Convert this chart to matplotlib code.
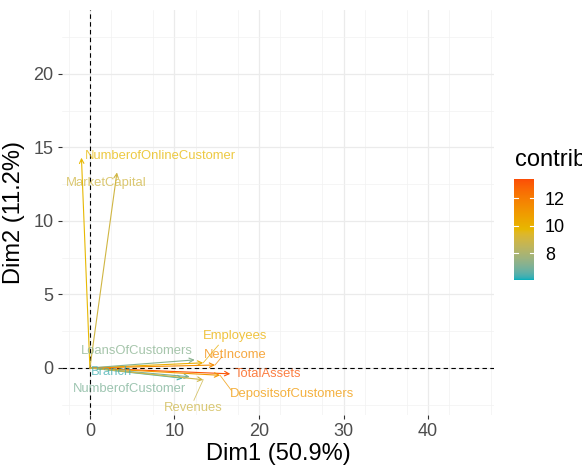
import numpy as np
import matplotlib
matplotlib.use('Agg')
import matplotlib.pyplot as plt
from matplotlib.colors import ListedColormap, Normalize, to_rgb

plt.rcParams['font.family'] = ['Liberation Sans', 'DejaVu Sans']

# variables on the first two dimensions
variables = ['NumberofOnlineCustomer', 'MarketCapital', 'Employees', 'NetIncome',
             'LoansOfCustomers', 'Branch', 'TotalAssets', 'NumberofCustomer',
             'DepositsofCustomers', 'Revenues']
dim1 = [-1.0, 3.2, 13.4, 14.8, 12.4, 11.0, 16.6, 11.8, 15.4, 13.4]
dim2 = [14.3, 13.3, 0.35, 0.2, 0.55, -0.7, -0.4, -0.6, -0.5, -0.8]
contrib = [9.7, 9.0, 10.1, 11.5, 7.2, 6.3, 13.2, 7.0, 11.0, 8.9]

# label placement (repelled positions), and whether a leader segment is drawn
label_x = [8.3, 1.9, 17.2, 17.2, 5.6, 2.6, 21.1, 4.7, 23.9, 12.2]
label_y = [14.4, 12.6, 2.2, 0.9, 1.15, -0.27, -0.4, -1.43, -1.77, -2.7]
leader = [False, False, True, True, False, False, False, False, True, True]
leader_end = {2: (15.2, 1.55), 3: (15.6, 0.75), 8: (16.7, -1.5), 9: (12.3, -2.2)}

gradient_cols = ['#00AFBB', '#E7B800', '#FC4E07']


# ggplot interpolates gradients in Lab space
def srgb_to_lab(rgb):
    rgb = np.asarray(rgb, float)
    lin = np.where(rgb <= 0.04045, rgb / 12.92, ((rgb + 0.055) / 1.055) ** 2.4)
    m = np.array([[0.4124, 0.3576, 0.1805],
                  [0.2126, 0.7152, 0.0722],
                  [0.0193, 0.1192, 0.9505]])
    xyz = m @ lin / np.array([0.95047, 1.0, 1.08883])
    f = np.where(xyz > 0.008856, np.cbrt(xyz), 7.787 * xyz + 16 / 116)
    return np.array([116 * f[1] - 16, 500 * (f[0] - f[1]), 200 * (f[1] - f[2])])


def lab_to_srgb(lab):
    L, a, b = lab
    fy = (L + 16) / 116
    fx = fy + a / 500
    fz = fy - b / 200
    f = np.array([fx, fy, fz])
    xyz = np.where(f ** 3 > 0.008856, f ** 3, (f - 16 / 116) / 7.787)
    xyz = xyz * np.array([0.95047, 1.0, 1.08883])
    minv = np.array([[3.2406, -1.5372, -0.4986],
                     [-0.9689, 1.8758, 0.0415],
                     [0.0557, -0.2040, 1.0570]])
    lin = minv @ xyz
    rgb = np.where(lin <= 0.0031308, 12.92 * lin, 1.055 * np.clip(lin, 0, None) ** (1 / 2.4) - 0.055)
    return np.clip(rgb, 0, 1)


labs = [srgb_to_lab(to_rgb(c)) for c in gradient_cols]
steps = []
for t in np.linspace(0, 1, 256):
    seg = min(int(t * 2), 1)
    u = t * 2 - seg
    steps.append(lab_to_srgb(labs[seg] * (1 - u) + labs[seg + 1] * u))
cmap = ListedColormap(steps)
norm = Normalize(vmin=6.04, vmax=13.4)

fig = plt.figure(figsize=(5.82, 4.66), dpi=100)
ax = fig.add_axes([62/582, 51/466, 432/582, 405/466])

ax.set_xlim(-3.3, 47.8)
ax.set_ylim(-3.2, 24.35)
ax.set_xticks([0, 10, 20, 30, 40])
ax.set_yticks([0, 5, 10, 15, 20])
ax.set_xticks(np.arange(-2.5, 47.6, 5), minor=True)
ax.set_yticks(np.arange(-2.5, 24, 5), minor=True)
ax.grid(which='major', color='#EBEBEB', lw=0.9)
ax.grid(which='minor', color='#F2F2F2', lw=0.5)
ax.set_axisbelow(True)
for s in ax.spines.values():
    s.set_visible(False)
ax.tick_params(which='major', length=3, width=0.8, color='#333333',
               labelsize=13, labelcolor='#4D4D4D', pad=3)
ax.tick_params(which='minor', length=0)

ax.axhline(0, color='black', lw=0.8, ls=(0, (4, 3)), zorder=1)
ax.axvline(0, color='black', lw=0.8, ls=(0, (4, 3)), zorder=1)

for i, name in enumerate(variables):
    c = cmap(norm(contrib[i]))
    ax.annotate('', xy=(dim1[i], dim2[i]), xytext=(0, 0),
                arrowprops=dict(arrowstyle='->', color=c, lw=0.8,
                                mutation_scale=8, shrinkA=0, shrinkB=0),
                zorder=3)
    if leader[i]:
        ex, ey = leader_end[i]
        ax.plot([dim1[i], ex], [dim2[i], ey], color=c, lw=0.6, alpha=0.8, zorder=3)
    ax.text(label_x[i], label_y[i], name, color=c, fontsize=9.4, alpha=0.75,
            ha='center', va='center', zorder=4)

ax.set_xlabel('Dim1 (50.9%)', fontsize=17, labelpad=2)
ax.set_ylabel('Dim2 (11.2%)', fontsize=17, labelpad=6)

# colour bar legend
cax = fig.add_axes([514/582, 186/466, 20/582, 101/466])
grad = np.linspace(norm.vmin, norm.vmax, 256).reshape(-1, 1)
cax.imshow(grad, aspect='auto', cmap=cmap, norm=norm, origin='lower',
           extent=[0, 1, norm.vmin, norm.vmax])
cax.set_xlim(0, 1)
cax.set_ylim(norm.vmin, norm.vmax)
for t in [8, 10, 12]:
    cax.plot([0, 0.2], [t, t], color='white', lw=0.8)
    cax.plot([0.8, 1], [t, t], color='white', lw=0.8)
cax.set_xticks([])
cax.set_yticks([8, 10, 12])
cax.yaxis.tick_right()
cax.tick_params(length=0, labelsize=13, pad=8)
for s in cax.spines.values():
    s.set_visible(False)
fig.text(515/582, 1 - 166/466, 'contrib', fontsize=17, ha='left', va='baseline')

fig.savefig('out.png', dpi=100)
